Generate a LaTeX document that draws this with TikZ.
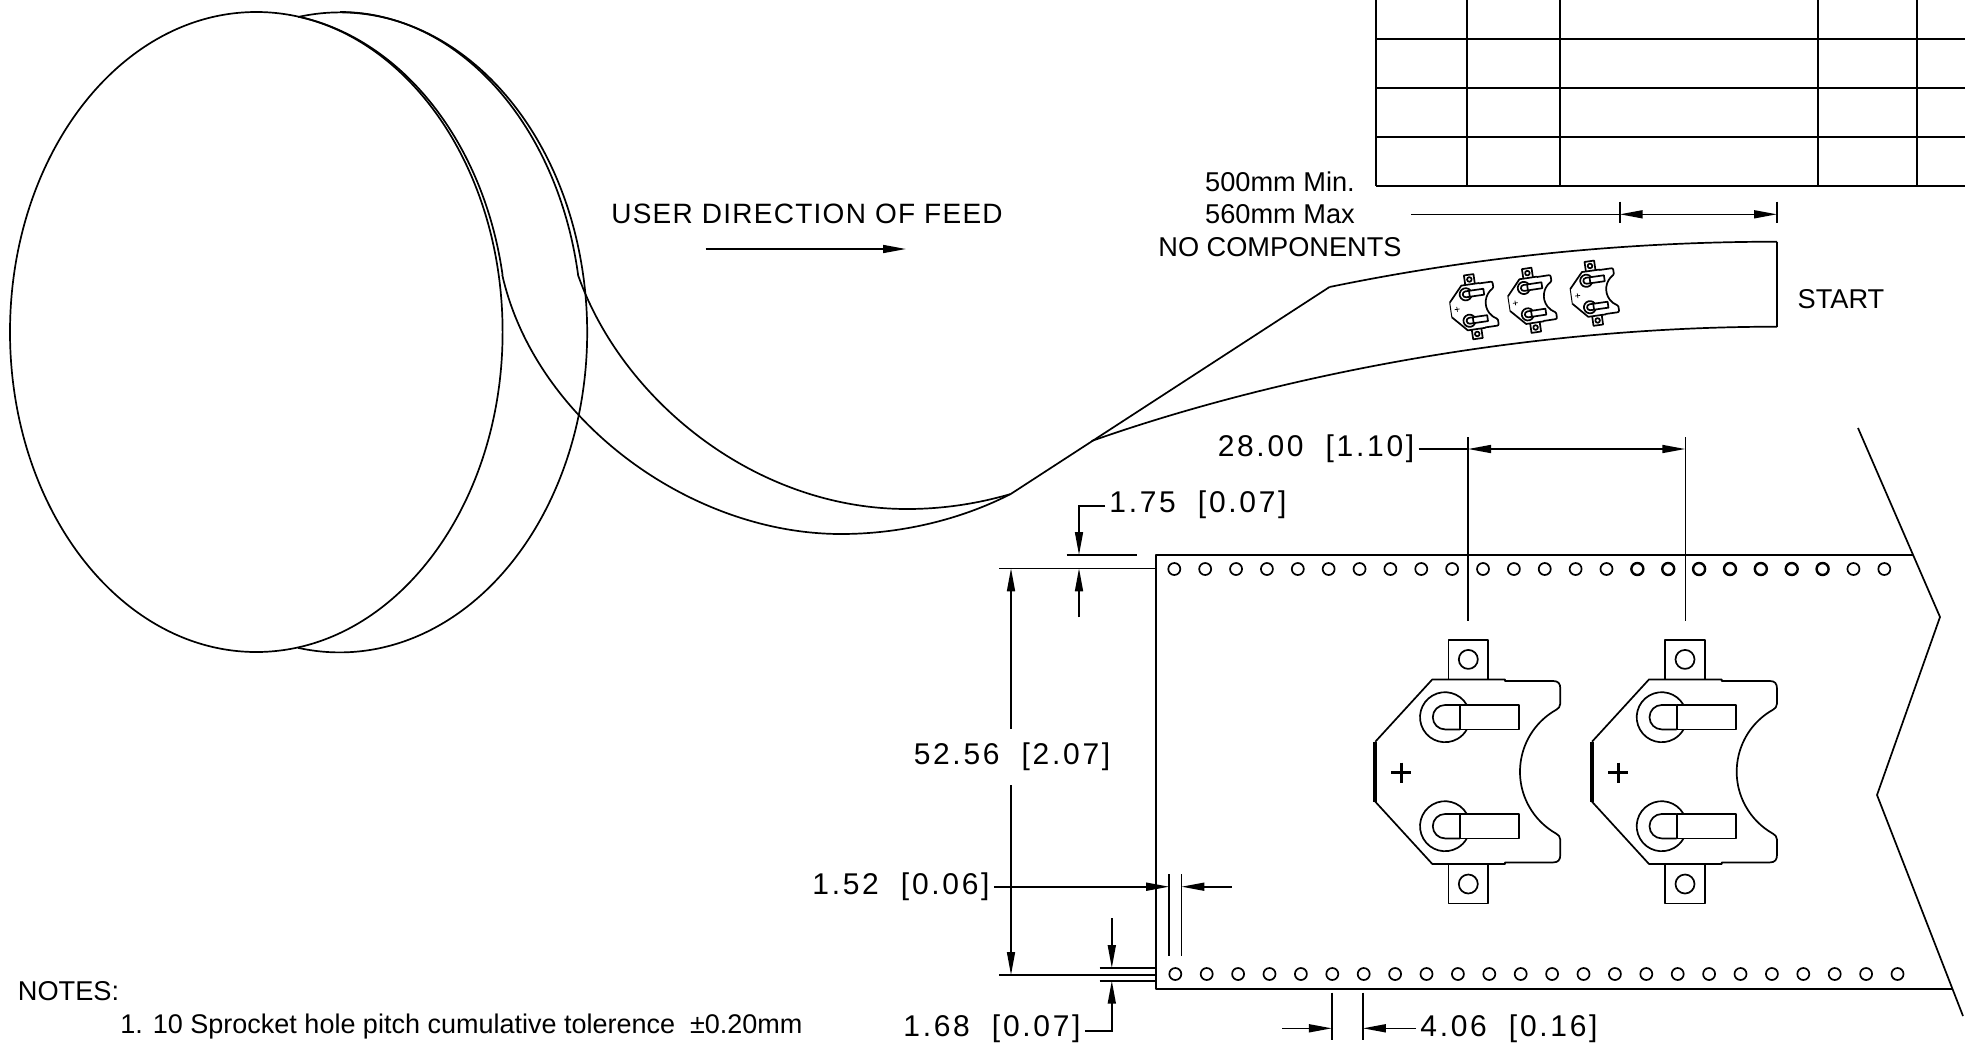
\documentclass[tikz,border=0pt]{standalone}
\usepackage{fontspec}
\setmainfont{Liberation Sans}
\newfontfamily\dimfont[LetterSpace=9]{Liberation Sans}
\newfontfamily\feedfont[LetterSpace=4.5]{Liberation Sans}
\usetikzlibrary{arrows.meta}

\tikzset{
  part/.style={line width=0.85pt, line join=round},
  dimline/.style={line width=0.8pt},
  dimarrow/.style={line width=0.8pt, -{Triangle[length=11.5pt,width=4pt]}},
  dimboth/.style={line width=0.8pt, {Triangle[length=11.5pt,width=4pt]}-{Triangle[length=11.5pt,width=4pt]}},
  dimlabel/.style={font=\dimfont\fontsize{15}{17}\selectfont, inner sep=2pt},
  feedlabel/.style={font=\feedfont\fontsize{14}{16}\selectfont, inner sep=2pt},
  notelabel/.style={font=\fontsize{13.6}{15}\selectfont, inner sep=0pt},
  pics/holder/.style={code={
    % tabs with their holes
    \foreach \s in {-1,1} {
      \draw[part] (-19.7,\s*92.5) -- (-19.7,\s*131.7) -- (19.7,\s*131.7) -- (19.7,\s*92.5);
      \draw[part] (0,\s*112.3) circle (9.5);
    }
    % body outline
    \draw[part] (-93,-30) -- (-36,-92.3) -- (36.7,-92.3) -- (36.7,-90.7) -- (85,-90.7)
      .. controls (90,-90.7) and (92,-88) .. (92,-83) -- (92,-68)
      .. controls (92,-65) and (90,-63) .. (88,-62)
      arc [start angle=240.7, end angle=119.3, radius=71.1]
      .. controls (90,63) and (92,65) .. (92,68) -- (92,83)
      .. controls (92,88) and (90,90.7) .. (85,90.7) -- (36.7,90.7) -- (36.7,92.3)
      -- (-36,92.3) -- (-93,30);
    \draw[line width=1.4*#1] (-93,-30) -- (-93,30);
    % plus sign
    \draw[line width=#1] (-77,1) -- (-57,1) (-67,-9) -- (-67,11);
    % contacts
    \foreach \yy in {-54.5,54.5} {
      \draw[part] ([shift={(-23.3,\yy)}]-30:25) arc [start angle=-30, end angle=-330, radius=25];
      \draw[part] (-8.3,\yy-12.2) -- (-23.3,\yy-12.2) arc [start angle=-90, end angle=-270, radius=12.2] -- (-8.3,\yy+12.2);
      \draw[part] (-8.3,\yy-12.2) rectangle (51,\yy+12.2);
    }
  }}
}

\begin{document}
\begin{tikzpicture}[x=0.5pt,y=-0.5pt]
  \useasboundingbox (0,0) rectangle (1965,1045);

  % Table top right
  \foreach \tx in {1376,1467,1560,1818,1917} {
    \draw[line width=1pt] (\tx,0) -- (\tx,186);
  }
  \foreach \ty in {39,88,137,186} {
    \draw[line width=1pt] (1376,\ty) -- (1965,\ty);
  }

  % Reel
  \draw[part] (256.3,332) ellipse [x radius=246.3, y radius=320];
  \draw[part] (298,17) arc [start angle=-99.7, end angle=99.7, x radius=247.5, y radius=320];
  \draw[part] (300,17) arc [start angle=-80, end angle=-10.26, x radius=250, y radius=320];
  \draw[part] (340,12) arc [start angle=-90, end angle=-10.26, x radius=242, y radius=320];

  % Tape leaving the reel
  \draw[part] (502.3,275) .. controls (535,420) and (690,534) .. (841,534) .. controls (900,534) and (960,520) .. (1010.7,494);
  \draw[part] (578,275) .. controls (622,400) and (755,509) .. (907,509) .. controls (945,509) and (980,503) .. (1010.7,494);
  \draw[part] (1010.7,494) -- (1329.5,287);
  \draw[part] (1329.5,287) .. controls (1470,258) and (1620,241.7) .. (1777,241.7);
  \draw[part] (1091.6,441) .. controls (1270,378) and (1520,326.7) .. (1777,326.7);
  \draw[part] (1777,241.7) -- (1777,326.7);

  % Small holders on the tape
  \pic[scale=.245, rotate=8.3] at (1473.3,306.7) {holder=.35pt};
  \pic[scale=.245, rotate=8.6] at (1531.5,300.3) {holder=.35pt};
  \pic[scale=.245, rotate=8] at (1593.8,293.2) {holder=.35pt};

  % Feed direction
  \node[feedlabel] (feedtext) at (807,214) {USER DIRECTION OF FEED};
  \coordinate (feedA) at (705.5,249);
  \coordinate (feedB) at (906,249);
  \draw[dimarrow] (feedA) -- (feedB);

  % Leader length
  \node[notelabel] (lead1) at (1280,181.7) {500mm Min.};
  \node[notelabel] (lead2) at (1280,214) {560mm Max};
  \node[notelabel] (lead3) at (1280,247.3) {NO COMPONENTS};
  \node[notelabel] (starttext) at (1841,299.5) {START};
  \coordinate (leadA) at (1411,214.3);
  \coordinate (leadB) at (1619.7,214.3);
  \coordinate (leadC) at (1777,214.3);
  \draw[dimline] (leadB |- 0,201.7) -- (leadB |- 0,222.7);
  \draw[dimline] (leadC |- 0,201.7) -- (leadC |- 0,222.7);
  \draw[dimline] (leadA) -- (leadB);
  \draw[dimboth] (leadB) -- (leadC);

  % Tape detail
  \draw[part] (1913,555) -- (1156,555) -- (1156,989) -- (1953,989);
  \draw[part] (1858,428) -- (1940,617) -- (1877,795) -- (1963,1016);
  \foreach \n in {0,...,14,22,23} {
    \draw[part] (1174.3+\n*30.87,569) circle (6);
  }
  \foreach \n in {15,...,21} {
    \draw[line width=1.2pt] (1174.3+\n*30.87,569) circle (6);
  }
  \foreach \n in {0,...,23} {
    \draw[part] (1175.3+\n*31.4,974) circle (6);
  }
  \pic at (1468.3,771.7) {holder=1.5pt};
  \pic at (1685,771.7) {holder=1.5pt};

  % 28.00 pitch
  \node[dimlabel] (dimpitch) at (1316,449) {28.00~ [1.10]};
  \coordinate (pitchL) at (1468,449);
  \coordinate (pitchR) at (1685.3,449);
  \draw[dimline] (pitchL |- 0,437) -- (pitchL |- 0,621);
  \draw[dimline] (pitchR |- 0,437) -- (pitchR |- 0,621);
  \draw[dimline] (dimpitch.east |- pitchL) -- (pitchL);
  \draw[dimboth] (pitchL) -- (pitchR);

  % 1.75 hole offset
  \node[dimlabel] (dimoffset) at (1198,504.7) {1.75~ [0.07]};
  \coordinate (offsetT) at (1079,555);
  \coordinate (offsetB) at (1079,568.3);
  \coordinate (offsetE) at (1079,617.3);
  \draw[dimline] (1066.7,555) -- (1136.7,555);
  \draw[dimline] (999,568.3) -- (1156,568.3);
  \draw[dimarrow] (dimoffset.west |- 0,505.7) -- (1079,505.7) -- (offsetT);
  \draw[dimarrow] (offsetE) -- (offsetB);

  % 52.56 hole span
  \coordinate (spanT) at (1011,568.3);
  \coordinate (spanB) at (1011,975);
  \draw[dimboth] (spanT) -- (spanB);
  \node[dimlabel, fill=white, inner ysep=7pt] (dimspan) at (1012,757) {52.56~ [2.07]};

  % 1.52 edge
  \node[dimlabel] (dimedge) at (901,886.5) {1.52~ [0.06]};
  \coordinate (edgeA) at (1169.2,886.7);
  \coordinate (edgeB) at (1181.4,886.7);
  \coordinate (edgeE) at (1231.6,886.7);
  \draw[dimline] (edgeA |- 0,874.3) -- (edgeA |- 0,955.7);
  \draw[dimline] (edgeB |- 0,874.3) -- (edgeB |- 0,955.7);
  \draw[dimarrow] (dimedge.east |- edgeA) -- (edgeA);
  \draw[dimarrow] (edgeE) -- (edgeB);

  % 1.68 bottom offset
  \node[dimlabel] (dimbottom) at (992,1029.2) {1.68~ [0.07]};
  \coordinate (bottomT) at (1111.8,968);
  \coordinate (bottomB) at (1111.8,980.7);
  \coordinate (bottomE) at (1111.8,918);
  \draw[dimline] (999,975) -- (1156,975);
  \draw[dimline] (1099.5,968) -- (1156,968);
  \draw[dimline] (1099.5,980.7) -- (1156,980.7);
  \draw[dimarrow] (bottomE) -- (bottomT);
  \draw[dimarrow] (dimbottom.east |- 0,1030.7) -- (1111.8,1030.7) -- (bottomB);

  % 4.06 hole pitch
  \node[dimlabel] (dimhole) at (1509,1028.5) {4.06~ [0.16]};
  \coordinate (holeA) at (1331.9,1028.3);
  \coordinate (holeB) at (1362.8,1028.3);
  \coordinate (holeE) at (1282,1028.3);
  \draw[dimline] (holeA |- 0,992.7) -- (holeA |- 0,1040);
  \draw[dimline] (holeB |- 0,992.7) -- (holeB |- 0,1040);
  \draw[dimarrow] (holeE) -- (holeA);
  \draw[dimarrow] (dimhole.west |- holeB) -- (holeB);

  % Notes
  \node[notelabel, anchor=west] (notehead) at (17.5,991) {NOTES:};
  \node[notelabel, anchor=west, font=\fontsize{13.5}{15}\selectfont] (noteone) at (120,1027) {1. 10 Sprocket hole pitch cumulative tolerence\ \ ±0.20mm};
\end{tikzpicture}
\end{document}
